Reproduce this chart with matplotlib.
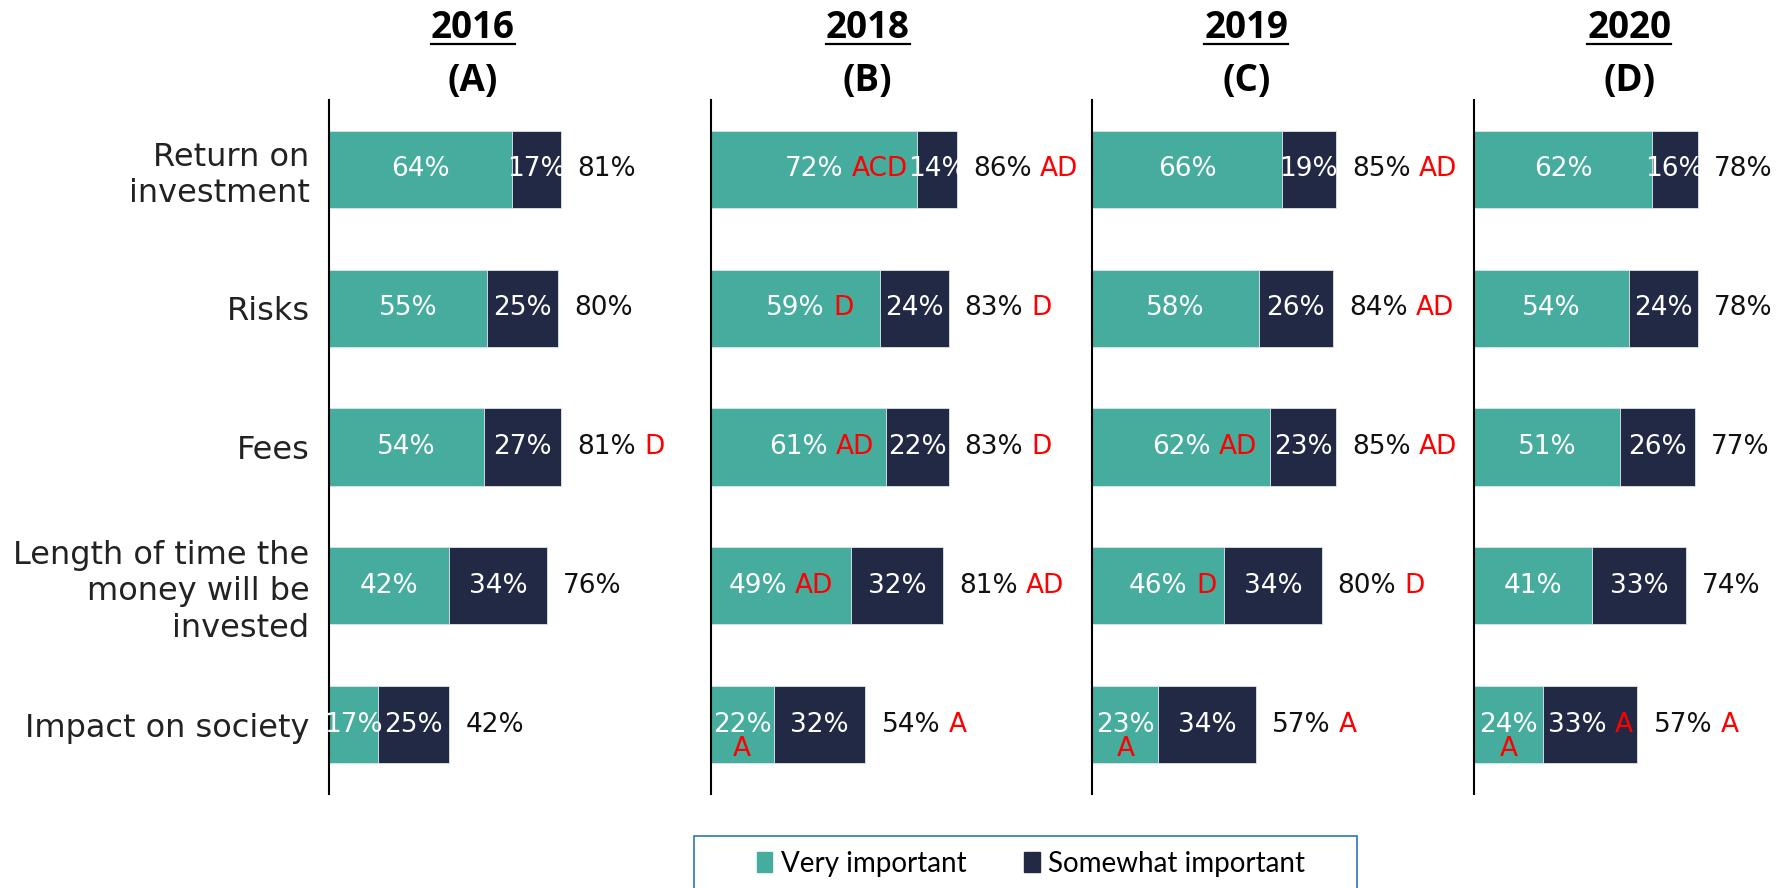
import matplotlib
matplotlib.use('Agg')
import matplotlib.pyplot as plt
from matplotlib.patches import Patch, Rectangle
from matplotlib.lines import Line2D

# Data
years = ['2016', '2018', '2019', '2020']
groups = ['(A)', '(B)', '(C)', '(D)']
categories = ['Return on\ninvestment', 'Risks', 'Fees',
              'Length of time the\nmoney will be\ninvested', 'Impact on society']

very_important = [[64, 55, 54, 42, 17],
                  [72, 59, 61, 49, 22],
                  [66, 58, 62, 46, 23],
                  [62, 54, 51, 41, 24]]
somewhat_important = [[17, 25, 27, 34, 25],
                      [14, 24, 22, 32, 32],
                      [19, 26, 23, 34, 34],
                      [16, 24, 26, 33, 33]]
net_important = [[81, 80, 81, 76, 42],
                 [86, 83, 83, 81, 54],
                 [85, 84, 85, 80, 57],
                 [78, 78, 77, 74, 57]]

# significance letters (red)
sig_very = [['', '', '', '', ''],
            ['ACD', 'D', 'AD', 'AD', 'A'],
            ['', '', 'AD', 'D', 'A'],
            ['', '', '', '', 'A']]
sig_somewhat = [['', '', '', '', ''],
                ['', '', '', '', ''],
                ['', '', '', '', ''],
                ['', '', '', '', 'A']]
sig_net = [['', '', 'D', '', ''],
           ['AD', 'D', 'D', 'AD', 'A'],
           ['AD', 'AD', 'AD', 'D', 'A'],
           ['', '', '', '', 'A']]

TEAL = '#45ac9e'
NAVY = '#212945'
RED = '#ff0000'
FONT = 'DejaVu Sans'
FS = 19

W, H = 1783, 888
fig = plt.figure(figsize=(W / 100, H / 100), dpi=100)

AX_W = 344
XMAX = 120
px_per_unit = AX_W / XMAX
title_dx = [144, 157, 154, 155]

axes = []
inside_labels = []  # (ax, number text, letters text, segment start, segment end)
for i in range(4):
    left = 329 + i * 381.7
    ax = fig.add_axes([left / W, (H - 794) / H, AX_W / W, 694 / H])
    axes.append(ax)
    y = list(range(len(categories)))
    v = very_important[i]
    s = somewhat_important[i]
    ax.barh(y, v, height=0.555, color=TEAL, edgecolor='#dde5ea', linewidth=0.6)
    ax.barh(y, s, left=v, height=0.555, color=NAVY, edgecolor='#dde5ea', linewidth=0.6)

    ax.set_xlim(0, XMAX)
    ax.set_ylim(4.5, -0.5)
    for sp in ['top', 'right', 'bottom']:
        ax.spines[sp].set_visible(False)
    ax.spines['left'].set_linewidth(1.5)
    ax.spines['left'].set_color('black')
    ax.set_xticks([])
    ax.set_yticks(y)
    if i == 0:
        ax.set_yticklabels(categories, fontsize=23, color='#222222', family=FONT,
                           linespacing=1.22)
        ax.tick_params(axis='y', length=0, pad=14)
    else:
        ax.set_yticklabels([])
        ax.tick_params(axis='y', length=0)

    for j in y:
        # segments
        for start, val, sig in [(0, v[j], sig_very[i][j]), (v[j], s[j], sig_somewhat[i][j])]:
            xc = start + val / 2
            num = ax.text(xc, j, f'{val}%', ha='center', va='center', color='white',
                          fontsize=FS, family=FONT)
            if sig:
                if val < 30 and start == 0:
                    ax.text(xc, j + 0.175, sig, ha='center', va='center', color=RED,
                            fontsize=FS, family=FONT)
                else:
                    lt = ax.annotate(sig, xy=(1, 0.5), xycoords=num, xytext=(6, 0),
                                     textcoords='offset points', ha='left', va='center',
                                     color=RED, fontsize=FS, family=FONT)
                    inside_labels.append((ax, num, lt, start, start + val))
        # net label
        tot = ax.annotate(f'{net_important[i][j]}%', xy=(v[j] + s[j], j), xytext=(11.5, 0),
                          textcoords='offset points', ha='left', va='center',
                          color='#111111', fontsize=FS, family=FONT)
        if sig_net[i][j]:
            ax.annotate(sig_net[i][j], xy=(1, 0.5), xycoords=tot, xytext=(6, 0),
                        textcoords='offset points', ha='left', va='center',
                        color=RED, fontsize=FS, family=FONT)

# titles
title_texts = []
for i in range(4):
    xc = (329 + i * 381.7 + title_dx[i]) / W
    t1 = fig.text(xc, 1 - 28 / H, years[i], ha='center', va='center', fontsize=26.5,
                  fontweight='bold', family='Open Sans')
    fig.text(xc, 1 - 81 / H, groups[i], ha='center', va='center', fontsize=26.5,
             fontweight='bold', family='Open Sans')
    title_texts.append(t1)

# legend
handles = [Patch(color=TEAL, label='Very important'),
           Patch(color=NAVY, label='Somewhat important')]
fig.legend(handles=handles, loc='center', bbox_to_anchor=(1031 / W, 1 - 864 / H), ncol=2,
           frameon=False, prop={'family': 'Lato', 'size': 20}, handlelength=0.55,
           handleheight=0.75, handletextpad=0.3, columnspacing=2.1)
fig.add_artist(Rectangle((694 / W, 1 - 905 / H), (1357 - 694) / W, (905 - 836) / H,
                         transform=fig.transFigure, fill=False, edgecolor='#2e75b6', lw=1.2))

# fix positions that depend on text extents
fig.canvas.draw()
renderer = fig.canvas.get_renderer()
for t1 in title_texts:
    bb = t1.get_window_extent(renderer)
    fig.add_artist(Line2D([bb.x0 / W, bb.x1 / W], [1 - 44 / H] * 2, transform=fig.transFigure,
                          color='black', lw=1.6))

for ax, num, lt, start, end in inside_labels:
    nb = num.get_window_extent(renderer)
    lb = lt.get_window_extent(renderer)
    end_px = ax.transData.transform((end, 0))[0]
    if lb.x1 > end_px - 3:
        mid_px = ax.transData.transform(((start + end) / 2, 0))[0]
        dx = mid_px - (nb.x0 + lb.x1) / 2
        x0, y0 = num.get_position()
        num.set_x(x0 + dx / px_per_unit)

fig.savefig('out.png', dpi=100)
